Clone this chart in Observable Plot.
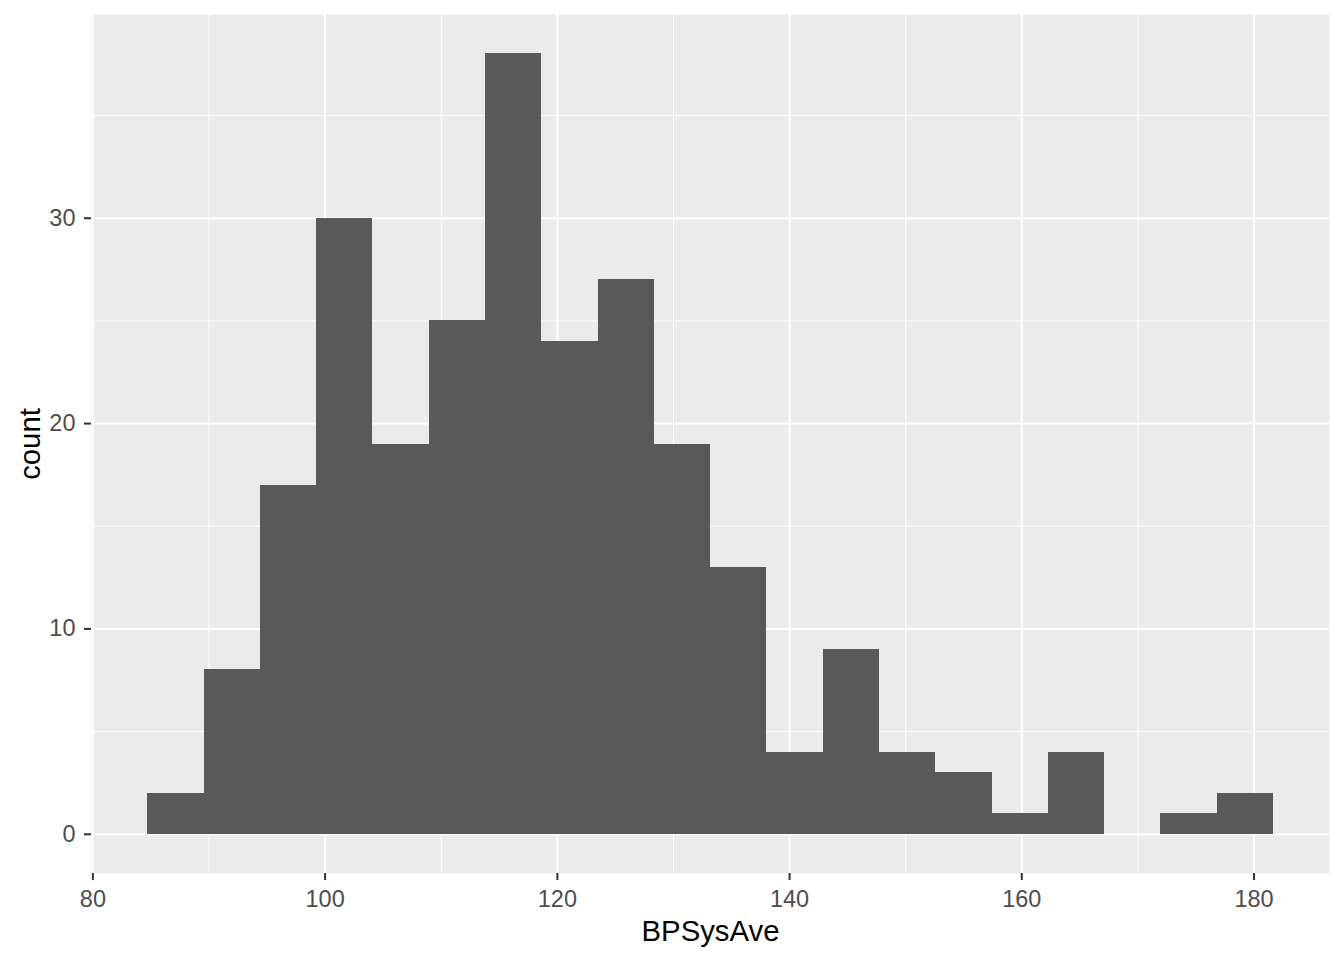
<!DOCTYPE html>
<html>
<head>
<meta charset="utf-8">
<script src="https://cdn.jsdelivr.net/npm/d3@7"></script>
<script src="https://cdn.jsdelivr.net/npm/@observablehq/plot@0.6"></script>
<style>
  html, body { margin: 0; padding: 0; background: #fff; }
  #chart svg { display: block; }
</style>
</head>
<body>
<div id="chart"></div>
<script>
// Histogram of BPSysAve (20 bins)
const binStart = [84.73, 89.58, 94.42, 99.27, 104.12, 108.97, 113.81, 118.66, 123.51, 128.35,
                  133.20, 138.05, 142.89, 147.74, 152.59, 157.44, 162.28, 167.13, 171.98, 176.82];
const binEnd   = [89.58, 94.42, 99.27, 104.12, 108.97, 113.81, 118.66, 123.51, 128.35, 133.20,
                  138.05, 142.89, 147.74, 152.59, 157.44, 162.28, 167.13, 171.98, 176.82, 181.67];
const counts   = [2, 8, 17, 30, 19, 25, 38, 24, 27, 19, 13, 4, 9, 4, 3, 1, 4, 0, 1, 2];

const xTicks = [80, 100, 120, 140, 160, 180];
const xMinor = [90, 110, 130, 150, 170];
const yTicks = [0, 10, 20, 30];
const yMinor = [5, 15, 25, 35];
const xTitle = "BPSysAve";
const yTitle = "count";

const bins = counts.map((c, i) => ({x1: binStart[i], x2: binEnd[i], count: c}));
const FONT = "'Liberation Sans', Arial, sans-serif";

const chart = Plot.plot({
  width: 1344,
  height: 960,
  marginLeft: 91,
  marginRight: 15,
  marginTop: 14,
  marginBottom: 87,
  style: {fontFamily: FONT, background: "#ffffff"},
  x: {domain: [79.88, 186.5], axis: null},
  y: {domain: [-1.91, 39.92], axis: null},
  marks: [
    Plot.frame({fill: "#EBEBEB", stroke: null}),
    Plot.ruleX(xMinor, {stroke: "#ffffff", strokeWidth: 1}),
    Plot.ruleY(yMinor, {stroke: "#ffffff", strokeWidth: 1}),
    Plot.ruleX(xTicks, {stroke: "#ffffff", strokeWidth: 2}),
    Plot.ruleY(yTicks, {stroke: "#ffffff", strokeWidth: 2}),
    Plot.rectY(bins.filter(d => d.count > 0), {x1: "x1", x2: "x2", y1: 0, y2: "count", fill: "#595959",
                inset: 0, shapeRendering: "crispEdges"}),
    Plot.axisX({ticks: xTicks, tickSize: 7, tickPadding: 10, fontSize: 23.5, label: null,
                stroke: "#333333", strokeWidth: 2, fill: "#4D4D4D", fontFamily: FONT}),
    Plot.axisY({ticks: yTicks, tickSize: 7, tickPadding: 9, fontSize: 23.5, label: null,
                stroke: "#333333", strokeWidth: 2, fill: "#4D4D4D", fontFamily: FONT}),
    Plot.text([xTitle], {frameAnchor: "bottom", dy: 58, lineAnchor: "middle", textAnchor: "middle",
                fontSize: 29.3, fill: "#000000", fontFamily: FONT}),
    Plot.text([yTitle], {frameAnchor: "left", dx: -61, rotate: -90, textAnchor: "middle", lineAnchor: "middle",
                fontSize: 29.3, fill: "#000000", fontFamily: FONT})
  ]
});
document.getElementById("chart").appendChild(chart);
</script>
</body>
</html>
